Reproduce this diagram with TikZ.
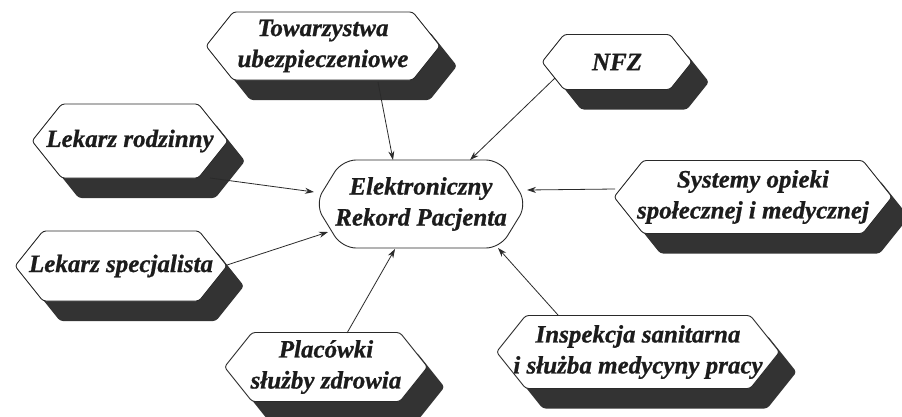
\documentclass[tikz,border=0pt]{standalone}
\usepackage{fontspec}
\newfontface\lblface{Liberation Serif Bold Italic}[FakeBold=0.8]
\usetikzlibrary{arrows.meta}
\definecolor{linegray}{HTML}{2A2A2A}
\definecolor{shadowgray}{HTML}{333333}
\definecolor{textgray}{HTML}{1C1C1C}
\newcommand\lblfont{\lblface\fontsize{25}{31}\selectfont}
\tikzset{
  hexshape/.style={draw=linegray, fill=white, line width=0.9pt, rounded corners=3pt},
  hexshadow/.style={fill=shadowgray, rounded corners=3pt},
  lbl/.style={font=\lblfont, align=center, text=textgray, inner sep=0pt},
  conn/.style={-{Stealth[length=9pt,width=6pt]}, line width=0.8pt, draw=linegray},
  ctrshape/.style={draw=linegray, fill=white, line width=0.9pt, rounded corners=14pt}
}
% #1 name, #2 cx, #3 cy, #4 width, #5 height, #6 text
\newcommand\hexagonbox[6]{%
  \pgfmathsetmacro\hw{#4/2}%
  \pgfmathsetmacro\hh{#5/2}%
  \pgfmathsetmacro\sl{0.8*\hh}%
  \begin{scope}[shift={(#2,#3)}]
    \fill[hexshadow, shift={(17,20)}] (-\hw,0) -- (-\hw+\sl,-\hh) -- (\hw-\sl,-\hh) -- (\hw,0) -- (\hw-\sl,\hh) -- (-\hw+\sl,\hh) -- cycle;
    \draw[hexshape] (-\hw,0) -- (-\hw+\sl,-\hh) -- (\hw-\sl,-\hh) -- (\hw,0) -- (\hw-\sl,\hh) -- (-\hw+\sl,\hh) -- cycle;
  \end{scope}
  \node[lbl] (#1) at (#2,#3) {#6};
}
\begin{document}
\begin{tikzpicture}[x=1pt,y=-1pt]
\useasboundingbox[fill=white] (0,0) rectangle (902,416);

\hexagonbox{tow}{323}{46}{234}{68}{Towarzystwa\\ubezpieczeniowe}
\hexagonbox{nfz}{617}{62}{150}{55}{NFZ}
\hexagonbox{lr}{130}{141}{196}{74}{Lekarz rodzinny}
\hexagonbox{sys}{753}{197}{278}{73}{Systemy opieki\\społecznej i medycznej}
\hexagonbox{ls}{121}{266}{212}{70}{Lekarz specjalista}
\hexagonbox{pl}{326}{367}{203}{69}{Placówki\\służby zdrowia}
\hexagonbox{ins}{638}{352}{283}{73}{Inspekcja sanitarna\\i służba medycyny pracy}

% central node
\draw[ctrshape] (315,204) -- (342,160) -- (500,160) -- (527,204) -- (500,248) -- (342,248) -- cycle;
\node[lbl] (erp) at (421,204) {Elektroniczny\\Rekord Pacjenta};

% connectors
\draw[conn] ([shift={(55,36)}]tow.center) -- ([shift={(-28,-44)}]erp.center);
\draw[conn] ([shift={(-62,16)}]nfz.center) -- ([shift={(49,-44)}]erp.center);
\draw[conn] ([shift={(80,37)}]lr.center) -- ([shift={(-107,-12)}]erp.center);
\draw[conn] ([shift={(106,-1)}]ls.center) -- ([shift={(-93,28)}]erp.center);
\draw[conn] ([shift={(-138,-8)}]sys.center) -- ([shift={(106,-14)}]erp.center);
\draw[conn] ([shift={(21,-34)}]pl.center) -- ([shift={(-26,45)}]erp.center);
\draw[conn] ([shift={(-80,-37)}]ins.center) -- ([shift={(77,44)}]erp.center);
\end{tikzpicture}
\end{document}
